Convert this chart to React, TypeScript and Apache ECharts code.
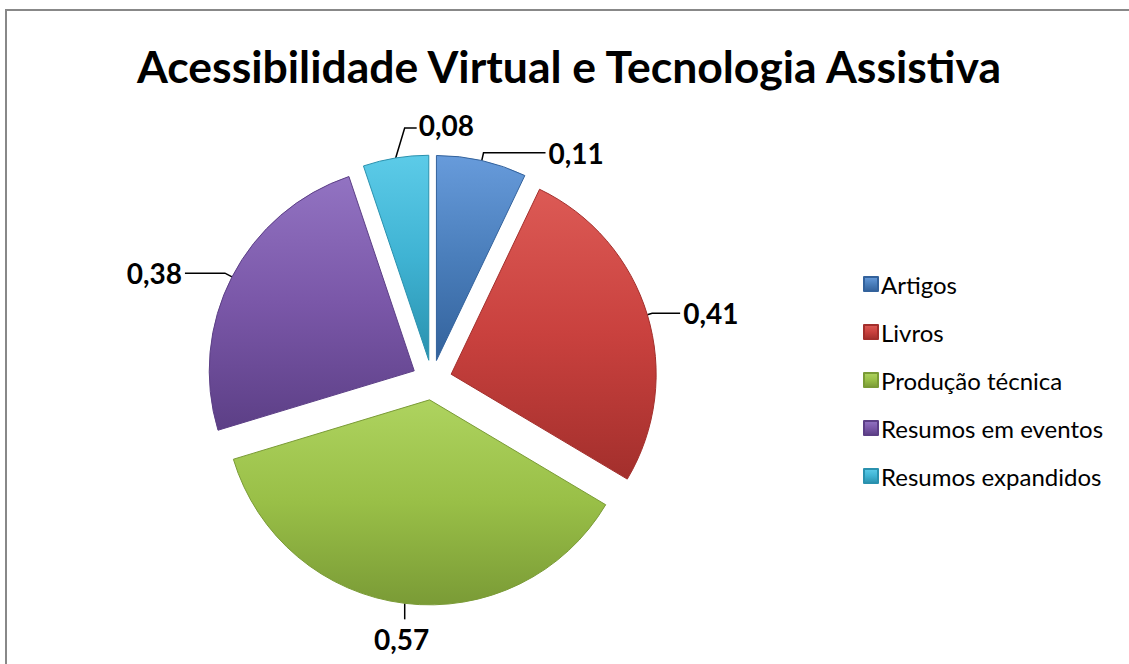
import React, { useEffect, useRef } from "react";
import * as echarts from "echarts";

const title = "Acessibilidade Virtual e Tecnologia Assistiva";
const categories = ["Artigos", "Livros", "Produção técnica", "Resumos em eventos", "Resumos expandidos"];
const values = [0.11, 0.41, 0.57, 0.38, 0.08];
const colors = ["#4A7EBB", "#C9413E", "#99BF47", "#7A57A8", "#3FB3D3"];
const lightColors = ["#679BDB", "#DC5A55", "#AED35F", "#9273C2", "#5CCBE8"];
const darkColors = ["#33629C", "#A32F2C", "#7A9B36", "#5C3F86", "#2A91AE"];
const lineLen1 = [8, 5, 10, 8, 10];
const lineLen2 = [62, 28, 30, 40, 20];

const FONT = "Lato, 'Open Sans', sans-serif";

export default function App() {
  const ref = useRef<HTMLDivElement>(null);
  useEffect(() => {
    if (!ref.current) return;
    const chart = echarts.init(ref.current, null, { renderer: "svg" });
    const data = categories.map((name, i) => ({
      name,
      value: values[i],
      selected: true,
      labelLine: { length: lineLen1[i], length2: lineLen2[i] },
      itemStyle: {
        color: new echarts.graphic.LinearGradient(0, 0, 0, 1, [
          { offset: 0, color: lightColors[i] },
          { offset: 0.5, color: colors[i] },
          { offset: 1, color: darkColors[i] },
        ]),
        borderColor: darkColors[i],
        borderWidth: 1,
      },
    }));
    chart.setOption({
      animation: false,
      backgroundColor: "#ffffff",
      color: colors,
      title: {
        text: title,
        left: 564,
        textAlign: "center",
        top: 38,
        textStyle: { fontFamily: FONT, fontSize: 44.5, fontWeight: "bold", color: "#000" },
      },
      graphic: [
        {
          type: "rect",
          shape: { x: 6, y: 10, width: 1200, height: 800 },
          style: { fill: "none", stroke: "#888888", lineWidth: 2 },
          silent: true,
        },
      ],
      legend: {
        orient: "vertical",
        left: 858,
        top: 267,
        icon: "rect",
        itemWidth: 14,
        itemHeight: 14,
        itemGap: 24,
        selectedMode: false,
        textStyle: { fontFamily: FONT, fontSize: 24, color: "#000", lineHeight: 24, padding: [0, 0, 0, -2] },
        data: categories,
      },
      series: [
        {
          type: "pie",
          center: [432, 380],
          radius: [0, 205],
          startAngle: 90,
          clockwise: true,
          selectedMode: "multiple",
          selectedOffset: 20,
          emphasis: { disabled: true },
          label: {
            show: true,
            position: "outside",
            formatter: (p: any) => String(p.value).replace(".", ","),
            fontFamily: FONT,
            fontSize: 28,
            fontWeight: "bold",
            color: "#000",
            distanceToLabelLine: 3,
          },
          labelLine: {
            show: true,
            lineStyle: { color: "#000", width: 1.5 },
          },
          labelLayout: (p: any) => {
            const pts = p.labelLinePoints;
            const r = p.labelRect;
            if (!pts || !r) return {};
            const p0 = pts[0];
            if (p.dataIndex === 2) {
              const p1 = [p0[0], p0[1] + 16];
              return {
                dx: p1[0] - 3 - (r.x + r.width / 2),
                dy: p1[1] + 6 - r.y,
                labelLinePoints: [p0, p1, p1],
              };
            }
            if (p.dataIndex === 4) {
              const p1 = [p0[0] + 9, p0[1] - 30];
              const p2 = [p1[0] + 12, p1[1]];
              return {
                dx: p2[0] + 2 - r.x,
                dy: p2[1] - 3 - (r.y + r.height / 2),
                labelLinePoints: [p0, p1, p2],
              };
            }
            return {};
          },
          data,
        },
      ],
    });
    return () => chart.dispose();
  }, []);
  return <div ref={ref} style={{ position: "fixed", left: 0, top: 0, width: 1129, height: 664 }} />;
}
